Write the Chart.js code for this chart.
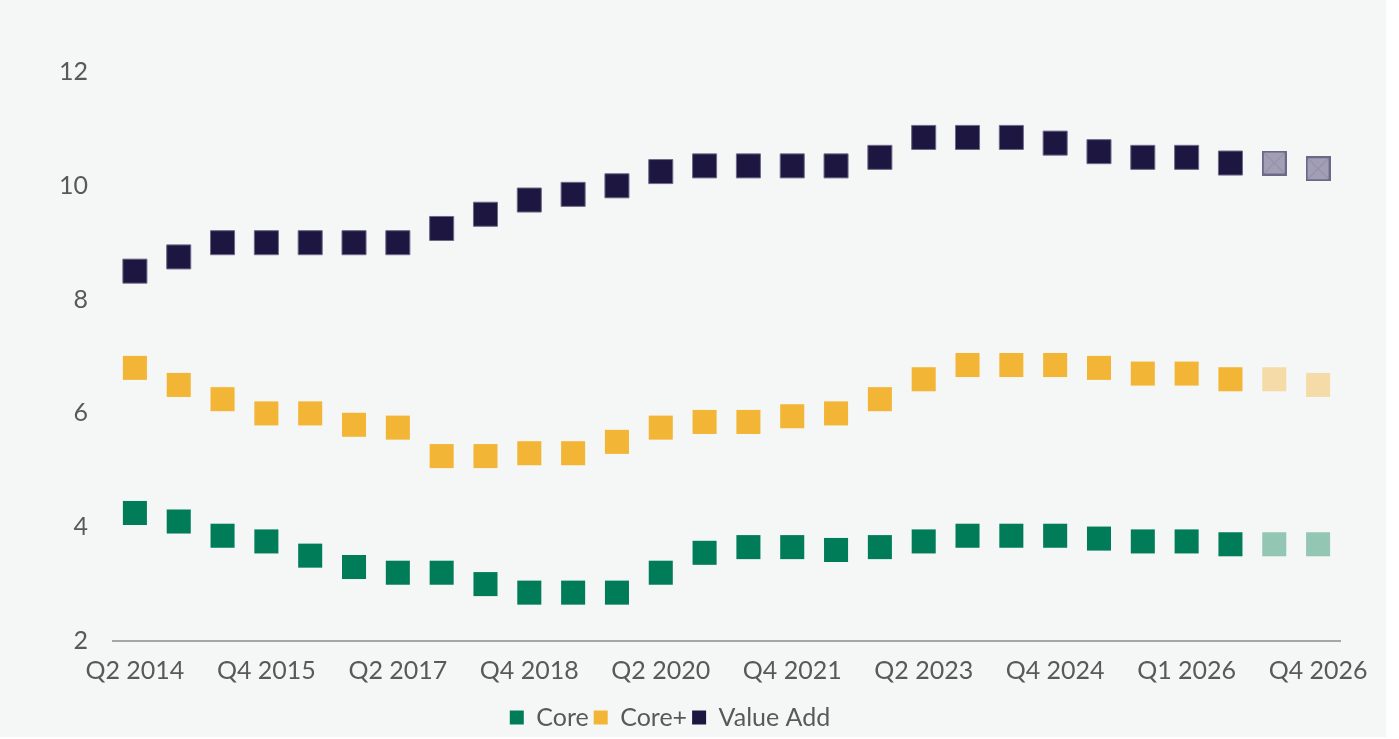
<!DOCTYPE html>
<html>
<head>
<meta charset="utf-8">
<script src="https://cdn.jsdelivr.net/npm/chart.js@4"></script>
<style>
  body { margin: 0; background: #ffffff; }
  #wrap { width: 1386px; height: 737px; background: #f5f7f6; }
</style>
</head>
<body>
<div id="wrap"><canvas id="yieldChart"></canvas></div>
<script>
// Half-yearly periods, then quarterly at the end (last two are forecasts)
const periods = [
  "Q2 2014", "Q4 2014", "Q2 2015", "Q4 2015", "Q2 2016", "Q4 2016", "Q2 2017",
  "Q4 2017", "Q2 2018", "Q4 2018", "Q2 2019", "Q4 2019", "Q2 2020", "Q4 2020",
  "Q2 2021", "Q4 2021", "Q2 2022", "Q4 2022", "Q2 2023", "Q4 2023", "Q2 2024",
  "Q4 2024", "Q2 2025", "Q4 2025", "Q1 2026", "Q2 2026", "Q3 2026", "Q4 2026"
];

const core = [4.25, 4.1, 3.85, 3.75, 3.5, 3.3, 3.2, 3.2, 3.0, 2.85, 2.85, 2.85, 3.2, 3.55,
  3.65, 3.65, 3.6, 3.65, 3.75, 3.85, 3.85, 3.85, 3.8, 3.75, 3.75, 3.7, 3.7, 3.7];

const corePlus = [6.8, 6.5, 6.25, 6.0, 6.0, 5.8, 5.75, 5.25, 5.25, 5.3, 5.3, 5.5, 5.75, 5.85,
  5.85, 5.95, 6.0, 6.25, 6.6, 6.85, 6.85, 6.85, 6.8, 6.7, 6.7, 6.6, 6.6, 6.5];

const valueAdd = [8.5, 8.75, 9.0, 9.0, 9.0, 9.0, 9.0, 9.25, 9.5, 9.75, 9.85, 10.0, 10.25, 10.35,
  10.35, 10.35, 10.35, 10.5, 10.85, 10.85, 10.85, 10.75, 10.6, 10.5, 10.5, 10.4, 10.4, 10.3];

const forecastFrom = 26;

const GREEN = "#007c58", GREEN_F = "#94c6b4";
const YELLOW = "#f2b535", YELLOW_F = "#f5dba8";
const NAVY = "#1d1640";
const TEXT = "#595959";
const FONT = "Lato, 'Open Sans', sans-serif";

// crossed marker for the forecast Value Add points
function crossedSquare() {
  const c = document.createElement("canvas");
  c.width = 25; c.height = 25;
  const g = c.getContext("2d");
  g.fillStyle = "#a29eb5";
  g.fillRect(0, 0, 25, 25);
  g.strokeStyle = "#8d89a3";
  g.lineWidth = 1;
  g.beginPath();
  g.moveTo(2, 2); g.lineTo(23, 23);
  g.moveTo(23, 2); g.lineTo(2, 23);
  g.stroke();
  g.strokeStyle = "#6c6887";
  g.lineWidth = 2;
  g.strokeRect(1, 1, 23, 23);
  return c;
}

const cross = crossedSquare();
const split = (base, fc) => periods.map((_, i) => (i >= forecastFrom ? fc : base));

const ctx = document.getElementById("yieldChart").getContext("2d");
new Chart(ctx, {
  type: "line",
  data: {
    labels: periods,
    datasets: [
      {
        label: "Core",
        data: core,
        showLine: false,
        backgroundColor: GREEN,
        borderColor: GREEN,
        borderWidth: 0,
        pointStyle: "rect",
        pointRadius: 17,
        pointBorderWidth: 0,
        pointBackgroundColor: split(GREEN, GREEN_F)
      },
      {
        label: "Core+",
        data: corePlus,
        showLine: false,
        backgroundColor: YELLOW,
        borderColor: YELLOW,
        borderWidth: 0,
        pointStyle: "rect",
        pointRadius: 17,
        pointBorderWidth: 0,
        pointBackgroundColor: split(YELLOW, YELLOW_F)
      },
      {
        label: "Value Add",
        data: valueAdd,
        showLine: false,
        backgroundColor: NAVY,
        borderColor: NAVY,
        borderWidth: 0,
        pointStyle: split("rect", cross),
        pointRadius: 17,
        pointBorderWidth: 1,
        pointBorderColor: "#6d6a88",
        pointBackgroundColor: NAVY
      }
    ]
  },
  options: {
    responsive: true,
    maintainAspectRatio: false,
    animation: false,
    layout: { padding: { top: 72, right: 46, bottom: -3, left: 0 } },
    plugins: {
      tooltip: { enabled: false },
      legend: {
        position: "bottom",
        labels: {
          boxWidth: 14,
          boxHeight: 14,
          padding: 5,
          color: TEXT,
          font: { family: FONT, size: 25, lineHeight: 1 }
        }
      }
    },
    scales: {
      x: {
        offset: true,
        grid: { display: false, drawTicks: false },
        border: { display: true, color: "#a6a6a6", width: 2 },
        afterFit: (scale) => { scale.height = 59; },
        ticks: {
          autoSkip: false,
          maxRotation: 0,
          padding: 15,
          color: TEXT,
          font: { family: FONT, size: 25 },
          callback: function (v, i) { return i % 3 === 0 ? this.getLabelForValue(v) : ""; }
        }
      },
      y: {
        min: 2,
        max: 12,
        grid: { display: false, drawTicks: false },
        border: { display: false },
        afterFit: (scale) => { scale.width = 113; },
        ticks: {
          stepSize: 2,
          padding: 25,
          color: TEXT,
          font: { family: FONT, size: 25 }
        }
      }
    }
  }
});
</script>
</body>
</html>
